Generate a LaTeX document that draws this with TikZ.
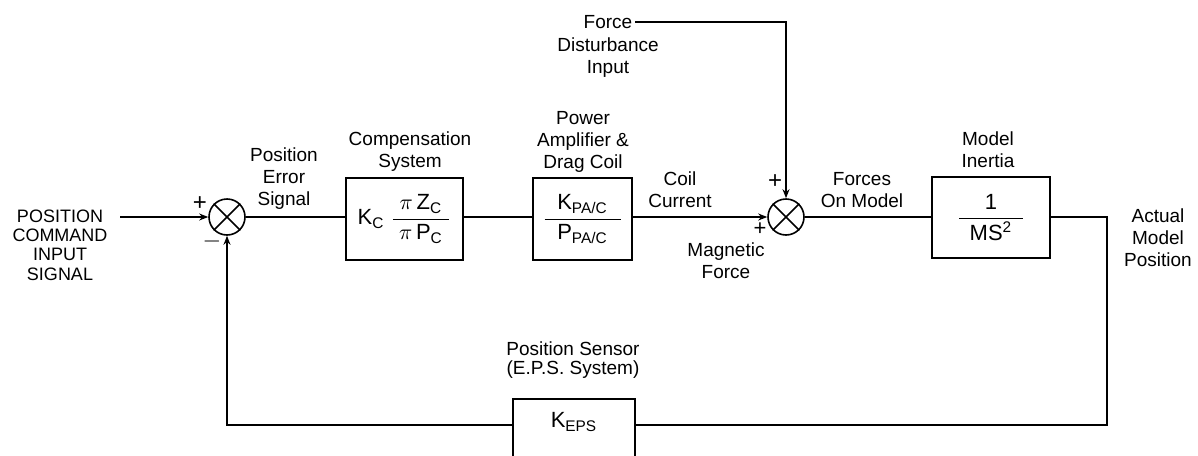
\documentclass[tikz,border=0pt]{standalone}
\usepackage{amsmath}
\usepackage{fontspec}
\setmainfont{Liberation Sans}
\usetikzlibrary{arrows.meta,positioning}

\begin{document}
\begin{tikzpicture}[x=0.5pt,y=-0.5pt,line width=0.8pt,
    font=\fontsize{9.5}{11}\selectfont,
    blk/.style={draw,inner sep=0pt,minimum height=41pt,font=\fontsize{11}{13}\selectfont},
    sumnode/.style={circle,draw,minimum size=18pt,inner sep=0pt},
    lbl/.style={align=center,inner sep=1pt},
    sgn/.style={inner sep=0pt,font=\fontsize{12}{12}\selectfont},
    sig/.style={-{Stealth[length=4.5pt,width=3.5pt]}}]

	\useasboundingbox (0,0) rectangle (1198,455);
	\clip (0,0) rectangle (1198,455);

	% summing points
	\node[sumnode] (s1) at (227,217) {};
	\node[sumnode] (s2) at (786,217) {};
	\draw (s1.north west) -- (s1.south east) (s1.north east) -- (s1.south west);
	\draw (s2.north west) -- (s2.south east) (s2.north east) -- (s2.south west);

	\node[sgn] (p1) at (200,204) {+};
	\node[sgn] (m1) at (212,241) {$-$};
	\node[sgn] (p2) at (775,182) {+};
	\node[sgn,font=\fontsize{11}{11}\selectfont] (p3) at (760,229) {+};

	% blocks
	\node[blk,minimum width=58.5pt] (comp) at (404.5,219)
		{K$_{\text{C}}$\ $\dfrac{\pi\,\text{Z}_{\text{C}}}{\makebox[28pt]{$\pi\,\text{P}_{\text{C}}$}}$};
	\node[blk,minimum width=49.5pt] (amp) at (582.5,219)
		{$\dfrac{\text{K}_{\text{PA/C}}}{\makebox[38pt]{P$_{\text{PA/C}}$}}$};
	\node[blk,minimum width=59pt,minimum height=40.5pt] (inertia) at (991,217.5)
		{$\dfrac{\text{1}}{\makebox[32pt]{MS$^{\text{2}}$}}$};
	\node[draw,inner sep=0pt,minimum width=61pt,anchor=north,text height=14.5pt,text depth=26.5pt,
		font=\fontsize{11}{13}\selectfont] (eps) at (574,398)
		{K$_{\text{EPS}}$};

	% labels
	\node[lbl,font=\fontsize{9}{9.6}\selectfont] (cmd) at (60,245) {POSITION\\COMMAND\\INPUT\\SIGNAL};
	\node[lbl] (pes) at (284,179) {Position\\Error\\Signal};
	\node[lbl] (comptxt) at (410,152) {Compensation\\System};
	\node[lbl] (amptxt) at (583,142) {Power\\Amplifier \&\\Drag Coil};
	\node[lbl] (force) at (608,22) {Force};
	\node[lbl,below=2pt of force] (dist) {Disturbance\\Input};
	\node[lbl] (coil) at (680,190) {Coil\\Current};
	\node[lbl] (mag) at (726,261) {Magnetic\\Force};
	\node[lbl] (fom) at (862,190) {Forces\\On Model};
	\node[lbl] (inertiatxt) at (988,150) {Model\\Inertia};
	\node[lbl] (pos) at (1158,238) {Actual\\Model\\Position};
	\node[lbl,font=\fontsize{9.5}{9.5}\selectfont] (senstxt) at (573,360) {Position Sensor\\(E.P.S. System)};

	% connectors
	\coordinate (outR) at (1107,217);
	\coordinate (fbR) at (1107,425);

	\draw[sig] ([xshift=5pt]cmd.east |- s1) -- (s1);
	\draw (s1.east) -- (s1.east -| comp.west);
	\draw (comp.east |- s1) -- (amp.west |- s1);
	\draw[sig] (amp.east |- s2) -- (s2.west);
	\draw[sig] (force.east) -| (s2.north);
	\draw (s2.east) -- (s2.east -| inertia.west);
	\draw (inertia.east |- outR) -- (outR) -- (fbR) -- (fbR -| eps.east);
	\draw[sig] (fbR -| eps.west) -| (s1.south);

\end{tikzpicture}
\end{document}
